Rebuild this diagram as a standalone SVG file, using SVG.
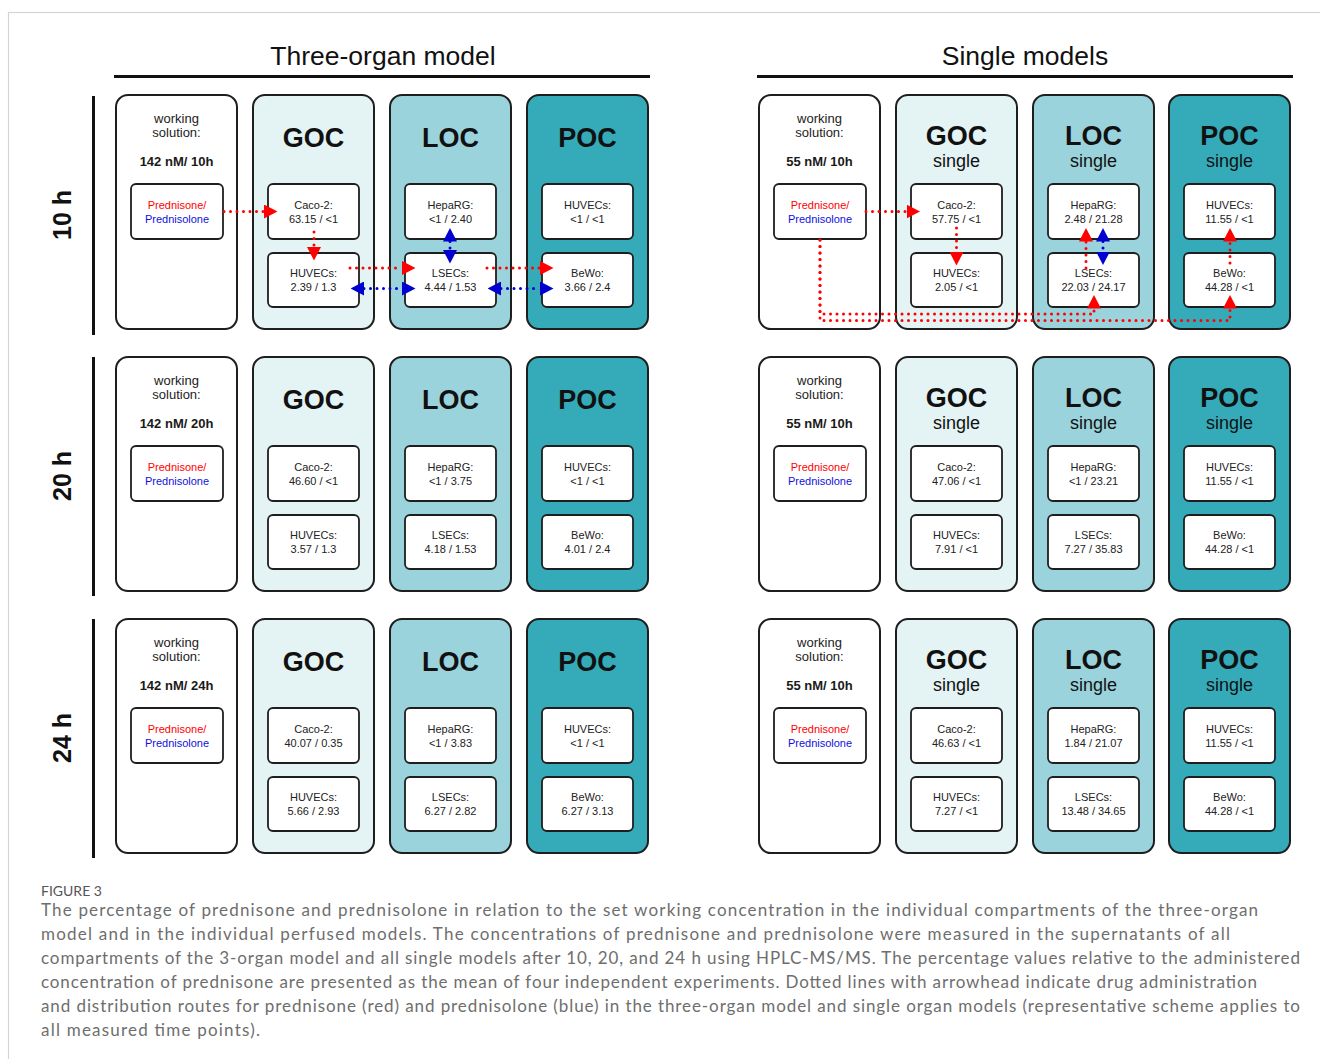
<svg xmlns="http://www.w3.org/2000/svg" width="1320" height="1059" viewBox="0 0 1320 1059">
<defs>
<style>
.frame{fill:none;stroke:#d4d4d4;stroke-width:1.2}
.ob{stroke:#1e1e1e;stroke-width:2}
.ws{fill:#ffffff}
.goc{fill:#e4f3f4}
.loc{fill:#9bd3dc}
.poc{fill:#35abba}
.ib{fill:#ffffff;stroke:#1e1e1e;stroke-width:1.8}
.c{font-family:"Liberation Sans",Arial,sans-serif;font-size:11px;fill:#222;text-anchor:middle}
.w{font-family:"Liberation Sans",Arial,sans-serif;font-size:13px;fill:#222;text-anchor:middle}
.wb{font-family:"Liberation Sans",Arial,sans-serif;font-size:13px;font-weight:bold;fill:#1a1a1a;text-anchor:middle}
.h{font-family:"Liberation Sans",Arial,sans-serif;font-size:27px;font-weight:bold;fill:#111;text-anchor:middle}
.s{font-family:"Liberation Sans",Arial,sans-serif;font-size:18px;fill:#111;text-anchor:middle}
.red{fill:#ff0000}
.blue{fill:#1010e0}
.title{font-family:"Liberation Sans",Arial,sans-serif;font-size:26.5px;fill:#111;text-anchor:middle}
.rl{font-family:"Liberation Sans",Arial,sans-serif;font-size:25px;font-weight:bold;fill:#111;text-anchor:middle}
.rule{stroke:#111;stroke-width:3}
.dr{fill:none;stroke:#ff0000;stroke-width:3;stroke-linecap:round;stroke-dasharray:0 6.5}
.db{fill:none;stroke:#0000d0;stroke-width:3;stroke-linecap:round;stroke-dasharray:0 6.5}
.cap{font-family:Lato,"Open Sans",sans-serif;font-size:17px;fill:#6e6e6e}
.fig{font-family:Lato,"Open Sans",sans-serif;font-size:14px;fill:#555}
</style>
<marker id="aR" viewBox="0 0 10 10" refX="0" refY="5" markerWidth="13.5" markerHeight="14" markerUnits="userSpaceOnUse" orient="auto-start-reverse" preserveAspectRatio="none"><path d="M0,0L10,5L0,10z" fill="#ff0000"/></marker>
<marker id="aB" viewBox="0 0 10 10" refX="0" refY="5" markerWidth="13.5" markerHeight="14" markerUnits="userSpaceOnUse" orient="auto-start-reverse" preserveAspectRatio="none"><path d="M0,0L10,5L0,10z" fill="#0000d0"/></marker>
</defs>
<rect width="1320" height="1059" fill="#ffffff"/>
<rect class="frame" x="8.5" y="12.5" width="1340" height="1080"/>

<g id="headers">
<text class="title" x="383" y="65">Three-organ model</text>
<line class="rule" x1="114" y1="76.5" x2="650" y2="76.5"/>
<text class="title" x="1025" y="65">Single models</text>
<line class="rule" x1="757" y1="76.5" x2="1293" y2="76.5"/>
</g>

<g id="row-labels">
<line class="rule" x1="93.5" y1="96" x2="93.5" y2="335"/>
<text class="rl" transform="translate(71,215) rotate(-90)">10 h</text>
<line class="rule" x1="93.5" y1="357" x2="93.5" y2="596"/>
<text class="rl" transform="translate(71,476) rotate(-90)">20 h</text>
<line class="rule" x1="93.5" y1="619" x2="93.5" y2="858"/>
<text class="rl" transform="translate(71,738) rotate(-90)">24 h</text>
</g>

<!-- ROW 10 h -->
<g id="row10">
<g id="t10-ws"><rect class="ob ws" x="116" y="95" width="121" height="234" rx="12"/>
<text class="w" x="176.5" y="123">working</text><text class="w" x="176.5" y="137">solution:</text>
<text class="wb" x="176.5" y="166">142 nM/ 10h</text>
<rect class="ib" x="131" y="184" width="92" height="55" rx="5"/>
<text class="c red" x="177" y="208.5">Prednisone/</text><text class="c blue" x="177" y="222.5">Prednisolone</text></g>
<g id="t10-goc"><rect class="ob goc" x="253" y="95" width="121" height="234" rx="12"/>
<text class="h" x="313.5" y="147">GOC</text>
<rect class="ib" x="268" y="184" width="91" height="55" rx="5"/><text class="c" x="313.5" y="208.5">Caco-2:</text><text class="c" x="313.5" y="222.5">63.15 / &lt;1</text>
<rect class="ib" x="268" y="253" width="91" height="54" rx="5"/><text class="c" x="313.5" y="277">HUVECs:</text><text class="c" x="313.5" y="291">2.39 / 1.3</text></g>
<g id="t10-loc"><rect class="ob loc" x="390" y="95" width="121" height="234" rx="12"/>
<text class="h" x="450.5" y="147">LOC</text>
<rect class="ib" x="405" y="184" width="91" height="55" rx="5"/><text class="c" x="450.5" y="208.5">HepaRG:</text><text class="c" x="450.5" y="222.5">&lt;1 / 2.40</text>
<rect class="ib" x="405" y="253" width="91" height="54" rx="5"/><text class="c" x="450.5" y="277">LSECs:</text><text class="c" x="450.5" y="291">4.44 / 1.53</text></g>
<g id="t10-poc"><rect class="ob poc" x="527" y="95" width="121" height="234" rx="12"/>
<text class="h" x="587.5" y="147">POC</text>
<rect class="ib" x="542" y="184" width="91" height="55" rx="5"/><text class="c" x="587.5" y="208.5">HUVECs:</text><text class="c" x="587.5" y="222.5">&lt;1 / &lt;1</text>
<rect class="ib" x="542" y="253" width="91" height="54" rx="5"/><text class="c" x="587.5" y="277">BeWo:</text><text class="c" x="587.5" y="291">3.66 / 2.4</text></g>

<g id="s10-ws"><rect class="ob ws" x="759" y="95" width="121" height="234" rx="12"/>
<text class="w" x="819.5" y="123">working</text><text class="w" x="819.5" y="137">solution:</text>
<text class="wb" x="819.5" y="166">55 nM/ 10h</text>
<rect class="ib" x="774" y="184" width="92" height="55" rx="5"/>
<text class="c red" x="820" y="208.5">Prednisone/</text><text class="c blue" x="820" y="222.5">Prednisolone</text></g>
<g id="s10-goc"><rect class="ob goc" x="896" y="95" width="121" height="234" rx="12"/>
<text class="h" x="956.5" y="145">GOC</text><text class="s" x="956.5" y="167">single</text>
<rect class="ib" x="911" y="184" width="91" height="55" rx="5"/><text class="c" x="956.5" y="208.5">Caco-2:</text><text class="c" x="956.5" y="222.5">57.75 / &lt;1</text>
<rect class="ib" x="911" y="253" width="91" height="54" rx="5"/><text class="c" x="956.5" y="277">HUVECs:</text><text class="c" x="956.5" y="291">2.05 / &lt;1</text></g>
<g id="s10-loc"><rect class="ob loc" x="1033" y="95" width="121" height="234" rx="12"/>
<text class="h" x="1093.5" y="145">LOC</text><text class="s" x="1093.5" y="167">single</text>
<rect class="ib" x="1048" y="184" width="91" height="55" rx="5"/><text class="c" x="1093.5" y="208.5">HepaRG:</text><text class="c" x="1093.5" y="222.5">2.48 / 21.28</text>
<rect class="ib" x="1048" y="253" width="91" height="54" rx="5"/><text class="c" x="1093.5" y="277">LSECs:</text><text class="c" x="1093.5" y="291">22.03 / 24.17</text></g>
<g id="s10-poc"><rect class="ob poc" x="1169" y="95" width="121" height="234" rx="12"/>
<text class="h" x="1229.5" y="145">POC</text><text class="s" x="1229.5" y="167">single</text>
<rect class="ib" x="1184" y="184" width="91" height="55" rx="5"/><text class="c" x="1229.5" y="208.5">HUVECs:</text><text class="c" x="1229.5" y="222.5">11.55 / &lt;1</text>
<rect class="ib" x="1184" y="253" width="91" height="54" rx="5"/><text class="c" x="1229.5" y="277">BeWo:</text><text class="c" x="1229.5" y="291">44.28 / &lt;1</text></g>
</g>

<!-- ROW 20 h -->
<g id="row20" transform="translate(0,262)">
<g id="t20-ws"><rect class="ob ws" x="116" y="95" width="121" height="234" rx="12"/>
<text class="w" x="176.5" y="123">working</text><text class="w" x="176.5" y="137">solution:</text>
<text class="wb" x="176.5" y="166">142 nM/ 20h</text>
<rect class="ib" x="131" y="184" width="92" height="55" rx="5"/>
<text class="c red" x="177" y="208.5">Prednisone/</text><text class="c blue" x="177" y="222.5">Prednisolone</text></g>
<g id="t20-goc"><rect class="ob goc" x="253" y="95" width="121" height="234" rx="12"/>
<text class="h" x="313.5" y="147">GOC</text>
<rect class="ib" x="268" y="184" width="91" height="55" rx="5"/><text class="c" x="313.5" y="208.5">Caco-2:</text><text class="c" x="313.5" y="222.5">46.60 / &lt;1</text>
<rect class="ib" x="268" y="253" width="91" height="54" rx="5"/><text class="c" x="313.5" y="277">HUVECs:</text><text class="c" x="313.5" y="291">3.57 / 1.3</text></g>
<g id="t20-loc"><rect class="ob loc" x="390" y="95" width="121" height="234" rx="12"/>
<text class="h" x="450.5" y="147">LOC</text>
<rect class="ib" x="405" y="184" width="91" height="55" rx="5"/><text class="c" x="450.5" y="208.5">HepaRG:</text><text class="c" x="450.5" y="222.5">&lt;1 / 3.75</text>
<rect class="ib" x="405" y="253" width="91" height="54" rx="5"/><text class="c" x="450.5" y="277">LSECs:</text><text class="c" x="450.5" y="291">4.18 / 1.53</text></g>
<g id="t20-poc"><rect class="ob poc" x="527" y="95" width="121" height="234" rx="12"/>
<text class="h" x="587.5" y="147">POC</text>
<rect class="ib" x="542" y="184" width="91" height="55" rx="5"/><text class="c" x="587.5" y="208.5">HUVECs:</text><text class="c" x="587.5" y="222.5">&lt;1 / &lt;1</text>
<rect class="ib" x="542" y="253" width="91" height="54" rx="5"/><text class="c" x="587.5" y="277">BeWo:</text><text class="c" x="587.5" y="291">4.01 / 2.4</text></g>

<g id="s20-ws"><rect class="ob ws" x="759" y="95" width="121" height="234" rx="12"/>
<text class="w" x="819.5" y="123">working</text><text class="w" x="819.5" y="137">solution:</text>
<text class="wb" x="819.5" y="166">55 nM/ 10h</text>
<rect class="ib" x="774" y="184" width="92" height="55" rx="5"/>
<text class="c red" x="820" y="208.5">Prednisone/</text><text class="c blue" x="820" y="222.5">Prednisolone</text></g>
<g id="s20-goc"><rect class="ob goc" x="896" y="95" width="121" height="234" rx="12"/>
<text class="h" x="956.5" y="145">GOC</text><text class="s" x="956.5" y="167">single</text>
<rect class="ib" x="911" y="184" width="91" height="55" rx="5"/><text class="c" x="956.5" y="208.5">Caco-2:</text><text class="c" x="956.5" y="222.5">47.06 / &lt;1</text>
<rect class="ib" x="911" y="253" width="91" height="54" rx="5"/><text class="c" x="956.5" y="277">HUVECs:</text><text class="c" x="956.5" y="291">7.91 / &lt;1</text></g>
<g id="s20-loc"><rect class="ob loc" x="1033" y="95" width="121" height="234" rx="12"/>
<text class="h" x="1093.5" y="145">LOC</text><text class="s" x="1093.5" y="167">single</text>
<rect class="ib" x="1048" y="184" width="91" height="55" rx="5"/><text class="c" x="1093.5" y="208.5">HepaRG:</text><text class="c" x="1093.5" y="222.5">&lt;1 / 23.21</text>
<rect class="ib" x="1048" y="253" width="91" height="54" rx="5"/><text class="c" x="1093.5" y="277">LSECs:</text><text class="c" x="1093.5" y="291">7.27 / 35.83</text></g>
<g id="s20-poc"><rect class="ob poc" x="1169" y="95" width="121" height="234" rx="12"/>
<text class="h" x="1229.5" y="145">POC</text><text class="s" x="1229.5" y="167">single</text>
<rect class="ib" x="1184" y="184" width="91" height="55" rx="5"/><text class="c" x="1229.5" y="208.5">HUVECs:</text><text class="c" x="1229.5" y="222.5">11.55 / &lt;1</text>
<rect class="ib" x="1184" y="253" width="91" height="54" rx="5"/><text class="c" x="1229.5" y="277">BeWo:</text><text class="c" x="1229.5" y="291">44.28 / &lt;1</text></g>
</g>

<!-- ROW 24 h -->
<g id="row24" transform="translate(0,524)">
<g id="t24-ws"><rect class="ob ws" x="116" y="95" width="121" height="234" rx="12"/>
<text class="w" x="176.5" y="123">working</text><text class="w" x="176.5" y="137">solution:</text>
<text class="wb" x="176.5" y="166">142 nM/ 24h</text>
<rect class="ib" x="131" y="184" width="92" height="55" rx="5"/>
<text class="c red" x="177" y="208.5">Prednisone/</text><text class="c blue" x="177" y="222.5">Prednisolone</text></g>
<g id="t24-goc"><rect class="ob goc" x="253" y="95" width="121" height="234" rx="12"/>
<text class="h" x="313.5" y="147">GOC</text>
<rect class="ib" x="268" y="184" width="91" height="55" rx="5"/><text class="c" x="313.5" y="208.5">Caco-2:</text><text class="c" x="313.5" y="222.5">40.07 / 0.35</text>
<rect class="ib" x="268" y="253" width="91" height="54" rx="5"/><text class="c" x="313.5" y="277">HUVECs:</text><text class="c" x="313.5" y="291">5.66 / 2.93</text></g>
<g id="t24-loc"><rect class="ob loc" x="390" y="95" width="121" height="234" rx="12"/>
<text class="h" x="450.5" y="147">LOC</text>
<rect class="ib" x="405" y="184" width="91" height="55" rx="5"/><text class="c" x="450.5" y="208.5">HepaRG:</text><text class="c" x="450.5" y="222.5">&lt;1 / 3.83</text>
<rect class="ib" x="405" y="253" width="91" height="54" rx="5"/><text class="c" x="450.5" y="277">LSECs:</text><text class="c" x="450.5" y="291">6.27 / 2.82</text></g>
<g id="t24-poc"><rect class="ob poc" x="527" y="95" width="121" height="234" rx="12"/>
<text class="h" x="587.5" y="147">POC</text>
<rect class="ib" x="542" y="184" width="91" height="55" rx="5"/><text class="c" x="587.5" y="208.5">HUVECs:</text><text class="c" x="587.5" y="222.5">&lt;1 / &lt;1</text>
<rect class="ib" x="542" y="253" width="91" height="54" rx="5"/><text class="c" x="587.5" y="277">BeWo:</text><text class="c" x="587.5" y="291">6.27 / 3.13</text></g>

<g id="s24-ws"><rect class="ob ws" x="759" y="95" width="121" height="234" rx="12"/>
<text class="w" x="819.5" y="123">working</text><text class="w" x="819.5" y="137">solution:</text>
<text class="wb" x="819.5" y="166">55 nM/ 10h</text>
<rect class="ib" x="774" y="184" width="92" height="55" rx="5"/>
<text class="c red" x="820" y="208.5">Prednisone/</text><text class="c blue" x="820" y="222.5">Prednisolone</text></g>
<g id="s24-goc"><rect class="ob goc" x="896" y="95" width="121" height="234" rx="12"/>
<text class="h" x="956.5" y="145">GOC</text><text class="s" x="956.5" y="167">single</text>
<rect class="ib" x="911" y="184" width="91" height="55" rx="5"/><text class="c" x="956.5" y="208.5">Caco-2:</text><text class="c" x="956.5" y="222.5">46.63 / &lt;1</text>
<rect class="ib" x="911" y="253" width="91" height="54" rx="5"/><text class="c" x="956.5" y="277">HUVECs:</text><text class="c" x="956.5" y="291">7.27 / &lt;1</text></g>
<g id="s24-loc"><rect class="ob loc" x="1033" y="95" width="121" height="234" rx="12"/>
<text class="h" x="1093.5" y="145">LOC</text><text class="s" x="1093.5" y="167">single</text>
<rect class="ib" x="1048" y="184" width="91" height="55" rx="5"/><text class="c" x="1093.5" y="208.5">HepaRG:</text><text class="c" x="1093.5" y="222.5">1.84 / 21.07</text>
<rect class="ib" x="1048" y="253" width="91" height="54" rx="5"/><text class="c" x="1093.5" y="277">LSECs:</text><text class="c" x="1093.5" y="291">13.48 / 34.65</text></g>
<g id="s24-poc"><rect class="ob poc" x="1169" y="95" width="121" height="234" rx="12"/>
<text class="h" x="1229.5" y="145">POC</text><text class="s" x="1229.5" y="167">single</text>
<rect class="ib" x="1184" y="184" width="91" height="55" rx="5"/><text class="c" x="1229.5" y="208.5">HUVECs:</text><text class="c" x="1229.5" y="222.5">11.55 / &lt;1</text>
<rect class="ib" x="1184" y="253" width="91" height="54" rx="5"/><text class="c" x="1229.5" y="277">BeWo:</text><text class="c" x="1229.5" y="291">44.28 / &lt;1</text></g>
</g>

<g id="connectors">
<path class="dr" d="M224,211.5H264" marker-end="url(#aR)"/>
<path class="dr" d="M314,232V247" marker-end="url(#aR)"/>
<path class="dr" d="M350,268H402" marker-end="url(#aR)"/>
<path class="db" d="M364,288.5H402" marker-start="url(#aB)" marker-end="url(#aB)"/>
<path class="dr" d="M487,268H540" marker-end="url(#aR)"/>
<path class="db" d="M501,288.5H540" marker-start="url(#aB)" marker-end="url(#aB)"/>
<path class="db" d="M450,241.5V250" marker-start="url(#aB)" marker-end="url(#aB)"/>

<path class="dr" d="M866,211.5H906.5" marker-end="url(#aR)"/>
<path class="dr" d="M956.5,228V252" marker-end="url(#aR)"/>
<path class="dr" d="M820,240V314H1094V308.5" marker-end="url(#aR)"/>
<path class="dr" d="M820,240V320.5H1230V308.5" marker-end="url(#aR)"/>
<path class="dr" d="M1086,268V241.5" marker-end="url(#aR)"/>
<path class="db" d="M1103,241.5V251.5" marker-start="url(#aB)" marker-end="url(#aB)"/>
<path class="dr" d="M1230,263V241.5" marker-end="url(#aR)"/>
</g>

<g id="caption">
<text class="fig" x="41" y="896">FIGURE 3</text>
<text class="cap" x="41" y="916" textLength="1217" lengthAdjust="spacing">The percentage of prednisone and prednisolone in relation to the set working concentration in the individual compartments of the three-organ</text>
<text class="cap" x="41" y="940" textLength="1189" lengthAdjust="spacing">model and in the individual perfused models. The concentrations of prednisone and prednisolone were measured in the supernatants of all</text>
<text class="cap" x="41" y="964" textLength="1259" lengthAdjust="spacing">compartments of the 3-organ model and all single models after 10, 20, and 24 h using HPLC-MS/MS. The percentage values relative to the administered</text>
<text class="cap" x="41" y="988" textLength="1216" lengthAdjust="spacing">concentration of prednisone are presented as the mean of four independent experiments. Dotted lines with arrowhead indicate drug administration</text>
<text class="cap" x="41" y="1012" textLength="1259" lengthAdjust="spacing">and distribution routes for prednisone (red) and prednisolone (blue) in the three-organ model and single organ models (representative scheme applies to</text>
<text class="cap" x="41" y="1036" textLength="219" lengthAdjust="spacing">all measured time points).</text>
</g>
</svg>
